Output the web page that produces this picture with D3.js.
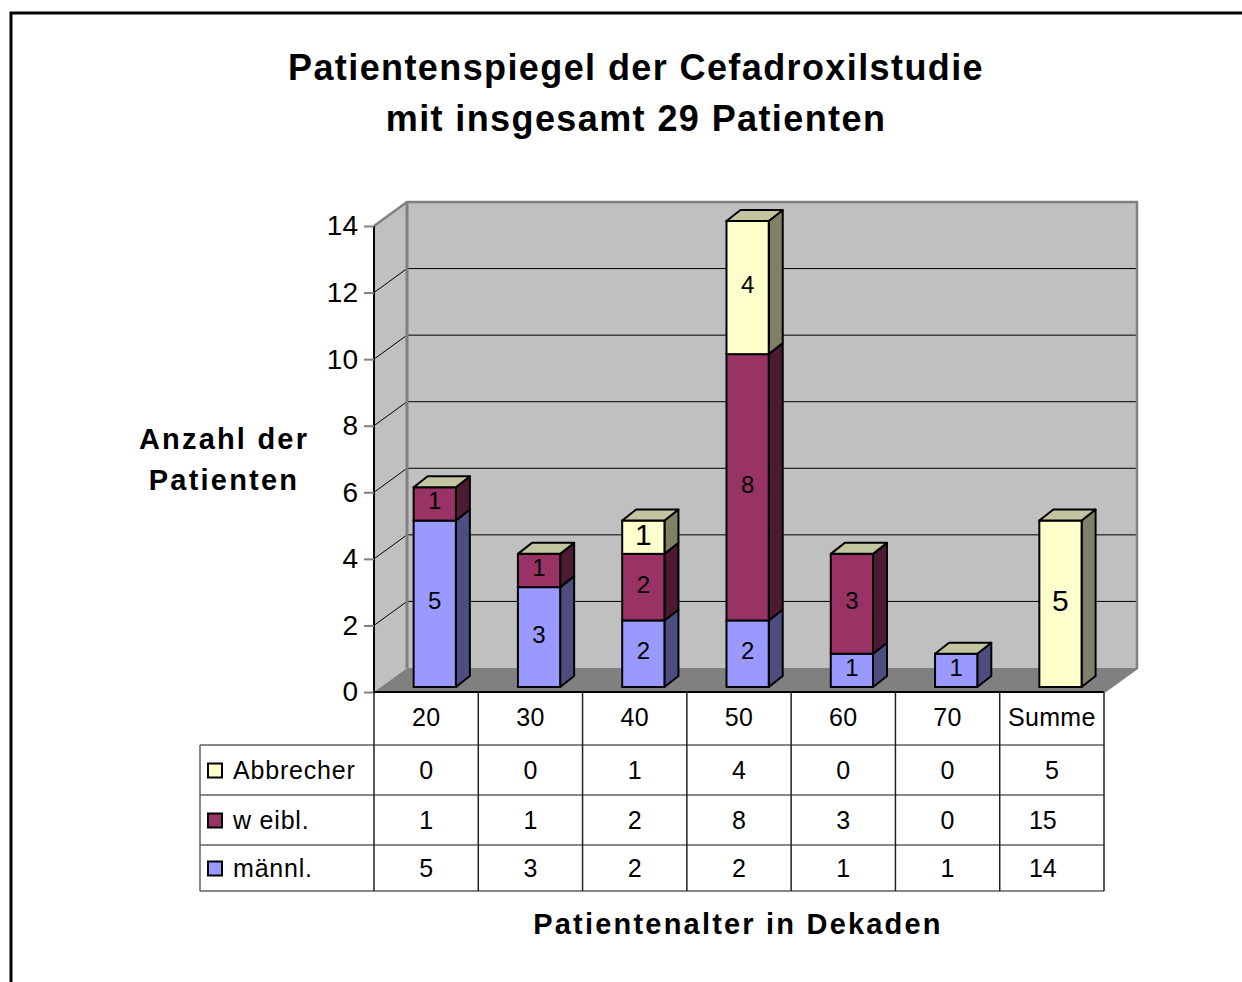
<!DOCTYPE html>
<html>
<head>
<meta charset="utf-8">
<script src="https://cdn.jsdelivr.net/npm/d3@7"></script>
<style>
  html, body { margin: 0; padding: 0; background: #fff; }
  svg { display: block; font-family: "Liberation Sans", Arial, sans-serif; }
</style>
</head>
<body>
<svg id="chart" width="1242" height="982"></svg>
<script>
// ---------- data ----------
const categories = ["20", "30", "40", "50", "60", "70", "Summe"];
const seriesNames = ["Abbrecher", "w eibl.", "männl."];   // table order (top to bottom)
const abbrecher = [0, 0, 1, 4, 0, 0, 5];
const weibl     = [1, 1, 2, 8, 3, 0, 15];
const maennl    = [5, 3, 2, 2, 1, 1, 14];
const yTicks = [0, 2, 4, 6, 8, 10, 12, 14];
const titleLines = ["Patientenspiegel der Cefadroxilstudie", "mit insgesamt 29 Patienten"];
const yTitleLines = ["Anzahl der", "Patienten"];
const xTitle = "Patientenalter in Dekaden";
// the "Summe" column only plots the Abbrecher series
const summeCategory = "Summe";
const summePlotted = ["Abbrecher"];

// ---------- styles ----------
const colors = {
  "männl.":   { front: "#9999ff", side: "#4d4d80", top: "#7a7acc" },
  "w eibl.":  { front: "#993366", side: "#4d1a33", top: "#7a2952" },
  "Abbrecher":{ front: "#ffffcc", side: "#808066", top: "#c4c4a0" }
};
const bigLabels = { "40|Abbrecher": 30, "Summe|Abbrecher": 30 };

const svg = d3.select("#chart");
const font = '"Liberation Sans", Arial, sans-serif';

// outer frame
svg.append("rect").attr("x", 11).attr("y", 13).attr("width", 1260).attr("height", 1000)
  .attr("fill", "none").attr("stroke", "#000").attr("stroke-width", 3);

// ---------- geometry ----------
const x0 = 374, x1 = 1104;
const depthX = 33, depthY = -24;
const x = d3.scaleBand().domain(categories).range([x0, x1]).paddingInner(0).paddingOuter(0);
const yF = d3.scaleLinear().domain([0, 14]).range([692, 226]);      // front plane
const yB = v => yF(v) + depthY;                                       // back wall
const bw = x.bandwidth();

// walls
svg.append("polygon")  // side wall
  .attr("points", [[x0, yF(0)], [x0, yF(14)], [x0 + depthX, yB(14)], [x0 + depthX, yB(0)]].map(p => p.join(",")).join(" "))
  .attr("fill", "#c0c0c0");
svg.append("rect")     // back wall
  .attr("x", x0 + depthX).attr("y", yB(14)).attr("width", x1 - x0).attr("height", yB(0) - yB(14))
  .attr("fill", "#c0c0c0");
svg.append("polygon")  // floor
  .attr("points", [[x0, yF(0)], [x1, yF(0)], [x1 + depthX, yB(0)], [x0 + depthX, yB(0)]].map(p => p.join(",")).join(" "))
  .attr("fill", "#808080");

// gridlines
const gridVals = yTicks.filter(v => v > 0 && v < 14);
svg.append("g").selectAll("line.gb").data(gridVals).join("line")
  .attr("x1", x0 + depthX).attr("x2", x1 + depthX).attr("y1", d => yB(d)).attr("y2", d => yB(d))
  .attr("stroke", "#000").attr("stroke-width", 1);
svg.append("g").selectAll("line.gs").data(gridVals).join("line")
  .attr("x1", x0).attr("x2", x0 + depthX).attr("y1", d => yF(d)).attr("y2", d => yB(d))
  .attr("stroke", "#000").attr("stroke-width", 1);

// wall borders (grey)
svg.append("path")
  .attr("d", `M${x0},${yF(14)} L${x0 + depthX},${yB(14)} L${x1 + depthX},${yB(14)} L${x1 + depthX},${yB(0)} L${x1},${yF(0)}`)
  .attr("fill", "none").attr("stroke", "#808080").attr("stroke-width", 2.5);
svg.append("line").attr("x1", x0 + depthX).attr("x2", x0 + depthX).attr("y1", yB(14)).attr("y2", yB(0))
  .attr("stroke", "#808080").attr("stroke-width", 3);

// y axis
const yAxis = d3.axisLeft(yF).tickValues(yTicks).tickSize(10).tickPadding(6).tickFormat(d3.format("d"));
const ya = svg.append("g").attr("transform", `translate(${x0},0)`).call(yAxis);
ya.select(".domain").attr("stroke", "#000").attr("stroke-width", 2).attr("d", `M0,${yF(0)}V${yF(14)}`);
ya.selectAll(".tick line").attr("stroke", "#808080").attr("stroke-width", 2);
ya.selectAll(".tick text").attr("font-family", font).attr("font-size", 28).attr("fill", "#000");

// ---------- bars ----------
const seriesData = { "männl.": maennl, "w eibl.": weibl, "Abbrecher": abbrecher };
const stackOrder = ["männl.", "w eibl.", "Abbrecher"]; // bottom to top
const barOffY = -5;
const yBar = v => yF(v) + barOffY;
const barW = bw * 0.405;
const bdx = 14, bdy = -11;

const bars = svg.append("g");
categories.forEach((cat, i) => {
  const left = x(cat) + bw * 0.38;
  const plotted = stackOrder.filter(s => cat !== summeCategory || summePlotted.includes(s));
  let acc = 0;
  const segs = [];
  plotted.forEach(s => {
    const v = seriesData[s][i];
    segs.push({ s, v, y0: acc, y1: acc + v });
    acc += v;
  });
  const g = bars.append("g");
  segs.filter(d => d.v > 0).forEach(d => {
    const top = yBar(d.y1), bot = yBar(d.y0);
    g.append("polygon")
      .attr("points", [[left + barW, bot], [left + barW + bdx, bot + bdy], [left + barW + bdx, top + bdy], [left + barW, top]].map(p => p.join(",")).join(" "))
      .attr("fill", colors[d.s].side).attr("stroke", "#000").attr("stroke-width", 2).attr("stroke-linejoin", "round");
    g.append("rect").attr("x", left).attr("y", top).attr("width", barW).attr("height", bot - top)
      .attr("fill", colors[d.s].front).attr("stroke", "#000").attr("stroke-width", 2);
  });
  const topY = yBar(acc);
  const topSeries = plotted[plotted.length - 1];
  g.append("polygon")
    .attr("points", [[left, topY], [left + barW, topY], [left + barW + bdx, topY + bdy], [left + bdx, topY + bdy]].map(p => p.join(",")).join(" "))
    .attr("fill", colors[topSeries].top).attr("stroke", "#000").attr("stroke-width", 2).attr("stroke-linejoin", "round");
  segs.filter(d => d.v > 0).forEach(d => {
    const fs = bigLabels[cat + "|" + d.s] || 24;
    g.append("text")
      .attr("x", left + barW / 2).attr("y", (yBar(d.y0) + yBar(d.y1)) / 2 - 3)
      .attr("text-anchor", "middle").attr("dominant-baseline", "central")
      .attr("font-family", font).attr("font-size", fs).attr("fill", "#000")
      .text(d.v);
  });
});

// ---------- data table ----------
const rowTops = [692, 745, 795, 845, 891];
const tableLeft = 200;
const tbl = svg.append("g");
const lineCol = "#606060";
rowTops.slice(1).forEach(yy => {
  tbl.append("line").attr("x1", tableLeft).attr("x2", x1).attr("y1", yy).attr("y2", yy)
    .attr("stroke", lineCol).attr("stroke-width", 1.5);
});
tbl.append("line").attr("x1", tableLeft).attr("x2", tableLeft).attr("y1", rowTops[1]).attr("y2", rowTops[4])
  .attr("stroke", lineCol).attr("stroke-width", 1.5);
categories.forEach(cat => {
  tbl.append("line").attr("x1", x(cat)).attr("x2", x(cat)).attr("y1", rowTops[0]).attr("y2", rowTops[4])
    .attr("stroke", "#202020").attr("stroke-width", 1.5);
});
tbl.append("line").attr("x1", x1).attr("x2", x1).attr("y1", rowTops[0]).attr("y2", rowTops[4])
  .attr("stroke", "#202020").attr("stroke-width", 1.5);
tbl.append("line").attr("x1", x0).attr("x2", x1).attr("y1", yF(0)).attr("y2", yF(0))
  .attr("stroke", "#000").attr("stroke-width", 2);

tbl.selectAll("text.hdr").data(categories).join("text")
  .attr("x", d => x(d) + bw / 2).attr("y", (rowTops[0] + rowTops[1]) / 2 - 2)
  .attr("text-anchor", "middle").attr("dominant-baseline", "central")
  .attr("font-family", font).attr("font-size", 25).attr("letter-spacing", 0.3).text(d => d);

seriesNames.forEach((s, r) => {
  const cy = (rowTops[r + 1] + rowTops[r + 2]) / 2;
  tbl.append("rect").attr("x", 208).attr("y", cy - 6.5).attr("width", 14).attr("height", 14)
    .attr("fill", colors[s].front).attr("stroke", "#000").attr("stroke-width", 2);
  tbl.append("text").attr("x", 233).attr("y", cy)
    .attr("dominant-baseline", "central")
    .attr("font-family", font).attr("font-size", 25).attr("letter-spacing", 0.8).text(s);
  tbl.selectAll(null).data(categories).join("text")
    .attr("x", d => x(d) + bw / 2 - (d === summeCategory && seriesData[s][categories.indexOf(d)] >= 10 ? 9 : 0))
    .attr("y", cy)
    .attr("text-anchor", "middle").attr("dominant-baseline", "central")
    .attr("font-family", font).attr("font-size", 25)
    .text((d, i) => seriesData[s][i]);
});

// ---------- titles ----------
svg.append("g").selectAll("text").data(titleLines).join("text")
  .attr("x", 636).attr("y", (d, i) => 80 + i * 51)
  .attr("text-anchor", "middle").attr("font-family", font).attr("font-weight", "bold")
  .attr("font-size", 36).attr("letter-spacing", 1.4).text(d => d);

svg.append("g").selectAll("text").data(yTitleLines).join("text")
  .attr("x", 224).attr("y", (d, i) => 449 + i * 41)
  .attr("text-anchor", "middle").attr("font-family", font).attr("font-weight", "bold")
  .attr("font-size", 29).attr("letter-spacing", 2.2).text(d => d);

svg.append("text").attr("x", 738).attr("y", 934)
  .attr("text-anchor", "middle").attr("font-family", font).attr("font-weight", "bold")
  .attr("font-size", 29).attr("letter-spacing", 2.2).text(xTitle);
</script>
</body>
</html>
